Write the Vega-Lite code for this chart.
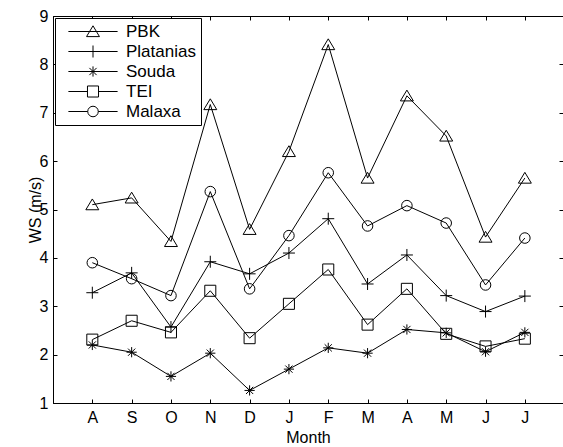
{
  "$schema": "https://vega.github.io/schema/vega-lite/v6.json",
  "width": 510,
  "height": 387,
  "autosize": {"type": "none"},
  "padding": {"left": 53, "top": 16, "right": 0, "bottom": 44},
  "background": "white",
  "config": {
    "font": "Liberation Sans",
    "view": {"stroke": "black", "strokeWidth": 1},
    "axis": {
      "grid": false,
      "domainColor": "black",
      "tickColor": "black",
      "labelColor": "black",
      "titleColor": "black",
      "labelFont": "Liberation Sans",
      "titleFont": "Liberation Sans",
      "labelFontSize": 16,
      "titleFontSize": 16,
      "titleFontWeight": "normal",
      "tickSize": -4,
      "domainWidth": 1,
      "tickWidth": 1
    }
  },
  "data": {
    "values": [
      {"m": 1, "s": "PBK", "v": 5.10}, {"m": 2, "s": "PBK", "v": 5.24}, {"m": 3, "s": "PBK", "v": 4.34}, {"m": 4, "s": "PBK", "v": 7.17},
      {"m": 5, "s": "PBK", "v": 4.59}, {"m": 6, "s": "PBK", "v": 6.20}, {"m": 7, "s": "PBK", "v": 8.41}, {"m": 8, "s": "PBK", "v": 5.65},
      {"m": 9, "s": "PBK", "v": 7.35}, {"m": 10, "s": "PBK", "v": 6.52}, {"m": 11, "s": "PBK", "v": 4.43}, {"m": 12, "s": "PBK", "v": 5.65},
      {"m": 1, "s": "Platanias", "v": 3.28}, {"m": 2, "s": "Platanias", "v": 3.69}, {"m": 3, "s": "Platanias", "v": 2.57}, {"m": 4, "s": "Platanias", "v": 3.92},
      {"m": 5, "s": "Platanias", "v": 3.67}, {"m": 6, "s": "Platanias", "v": 4.10}, {"m": 7, "s": "Platanias", "v": 4.81}, {"m": 8, "s": "Platanias", "v": 3.46},
      {"m": 9, "s": "Platanias", "v": 4.06}, {"m": 10, "s": "Platanias", "v": 3.22}, {"m": 11, "s": "Platanias", "v": 2.89}, {"m": 12, "s": "Platanias", "v": 3.21},
      {"m": 1, "s": "Souda", "v": 2.20}, {"m": 2, "s": "Souda", "v": 2.05}, {"m": 3, "s": "Souda", "v": 1.55}, {"m": 4, "s": "Souda", "v": 2.03},
      {"m": 5, "s": "Souda", "v": 1.26}, {"m": 6, "s": "Souda", "v": 1.70}, {"m": 7, "s": "Souda", "v": 2.14}, {"m": 8, "s": "Souda", "v": 2.03},
      {"m": 9, "s": "Souda", "v": 2.52}, {"m": 10, "s": "Souda", "v": 2.45}, {"m": 11, "s": "Souda", "v": 2.06}, {"m": 12, "s": "Souda", "v": 2.46},
      {"m": 1, "s": "TEI", "v": 2.31}, {"m": 2, "s": "TEI", "v": 2.70}, {"m": 3, "s": "TEI", "v": 2.46}, {"m": 4, "s": "TEI", "v": 3.32},
      {"m": 5, "s": "TEI", "v": 2.34}, {"m": 6, "s": "TEI", "v": 3.05}, {"m": 7, "s": "TEI", "v": 3.76}, {"m": 8, "s": "TEI", "v": 2.62},
      {"m": 9, "s": "TEI", "v": 3.36}, {"m": 10, "s": "TEI", "v": 2.43}, {"m": 11, "s": "TEI", "v": 2.17}, {"m": 12, "s": "TEI", "v": 2.33},
      {"m": 1, "s": "Malaxa", "v": 3.90}, {"m": 2, "s": "Malaxa", "v": 3.57}, {"m": 3, "s": "Malaxa", "v": 3.22}, {"m": 4, "s": "Malaxa", "v": 5.37},
      {"m": 5, "s": "Malaxa", "v": 3.36}, {"m": 6, "s": "Malaxa", "v": 4.46}, {"m": 7, "s": "Malaxa", "v": 5.76}, {"m": 8, "s": "Malaxa", "v": 4.66},
      {"m": 9, "s": "Malaxa", "v": 5.08}, {"m": 10, "s": "Malaxa", "v": 4.72}, {"m": 11, "s": "Malaxa", "v": 3.44}, {"m": 12, "s": "Malaxa", "v": 4.41}
    ]
  },
  "layer": [
    {
      "mark": {"type": "line", "color": "black", "strokeWidth": 1},
      "encoding": {
        "x": {"field": "m", "type": "quantitative", "scale": {"domain": [0, 12.97], "nice": false, "zero": false},
              "axis": {"orient": "bottom", "values": [1,2,3,4,5,6,7,8,9,10,11,12], "labelExpr": "['','A','S','O','N','D','J','F','M','A','M','J','J'][datum.value]", "labelPadding": 10, "title": "Month", "titlePadding": 4}},
        "y": {"field": "v", "type": "quantitative", "scale": {"domain": [1, 9], "nice": false, "zero": false},
              "axis": {"orient": "left", "values": [1,2,3,4,5,6,7,8,9], "labelPadding": 9, "title": "WS (m/s)", "titlePadding": -4}},
        "detail": {"field": "s"}
      }
    },
    {
      "mark": {"type": "point", "filled": false, "stroke": "black", "strokeWidth": 1, "size": 144, "opacity": 1},
      "encoding": {
        "x": {"field": "m", "type": "quantitative", "axis": null},
        "y": {"field": "v", "type": "quantitative", "axis": null},
        "shape": {"field": "s", "type": "nominal", "legend": null,
          "scale": {"domain": ["PBK", "Platanias", "Souda", "TEI", "Malaxa"],
                    "range": ["M0,-0.95L1.08,0.85L-1.08,0.85Z",
                              "M-1,0L1,0M0,-1L0,1",
                              "M-0.85,0L0.85,0M0,-0.85L0,0.85M-0.6,-0.6L0.6,0.6M-0.6,0.6L0.6,-0.6",
                              "M-0.92,-0.92L0.92,-0.92L0.92,0.92L-0.92,0.92Z",
                              "M0.88,0A0.88,0.88,0,1,1,-0.88,0A0.88,0.88,0,1,1,0.88,0Z"]}}
      }
    },
    {
      "transform": [{"filter": "datum.v < 0"}],
      "mark": {"type": "point", "filled": false, "stroke": "black", "strokeWidth": 1, "size": 144, "opacity": 1},
      "encoding": {
        "x": {"field": "m", "type": "quantitative",
              "axis": {"orient": "top", "values": [1,2,3,4,5,6,7,8,9,10,11,12], "labels": false, "title": null, "domain": true}},
        "y": {"field": "v", "type": "quantitative",
              "axis": {"orient": "right", "values": [1,2,3,4,5,6,7,8,9], "labels": false, "title": null, "domain": true}},
        "shape": {"field": "s", "type": "nominal",
          "scale": {"domain": ["PBK", "Platanias", "Souda", "TEI", "Malaxa"],
                    "range": ["M-4.1,0L4.1,0M0,-0.95L1.08,0.85L-1.08,0.85Z",
                              "M-4.1,0L4.1,0M0,-1L0,1",
                              "M-4.1,0L4.1,0M0,-0.85L0,0.85M-0.6,-0.6L0.6,0.6M-0.6,0.6L0.6,-0.6",
                              "M-4.1,0L-0.92,0M0.92,0L4.1,0M-0.92,-0.92L0.92,-0.92L0.92,0.92L-0.92,0.92Z",
                              "M-4.1,0L-0.88,0M0.88,0L4.1,0M0.88,0A0.88,0.88,0,1,1,-0.88,0A0.88,0.88,0,1,1,0.88,0Z"]},
          "legend": {"orient": "top-left", "offset": 2, "title": null, "strokeColor": "black", "fillColor": "white",
                     "padding": 5, "cornerRadius": 0, "symbolSize": 144, "symbolOffset": 24.5, "labelOffset": 24.5,
                     "labelFontSize": 17, "labelColor": "black", "labelFont": "Liberation Sans", "rowPadding": 2,
                     "symbolStrokeWidth": 1, "symbolStrokeColor": "black", "symbolFillColor": "transparent", "symbolOpacity": 1}}
      }
    }
  ],
  "resolve": {"scale": {"shape": "independent"}, "axis": {"x": "independent", "y": "independent"}}
}
